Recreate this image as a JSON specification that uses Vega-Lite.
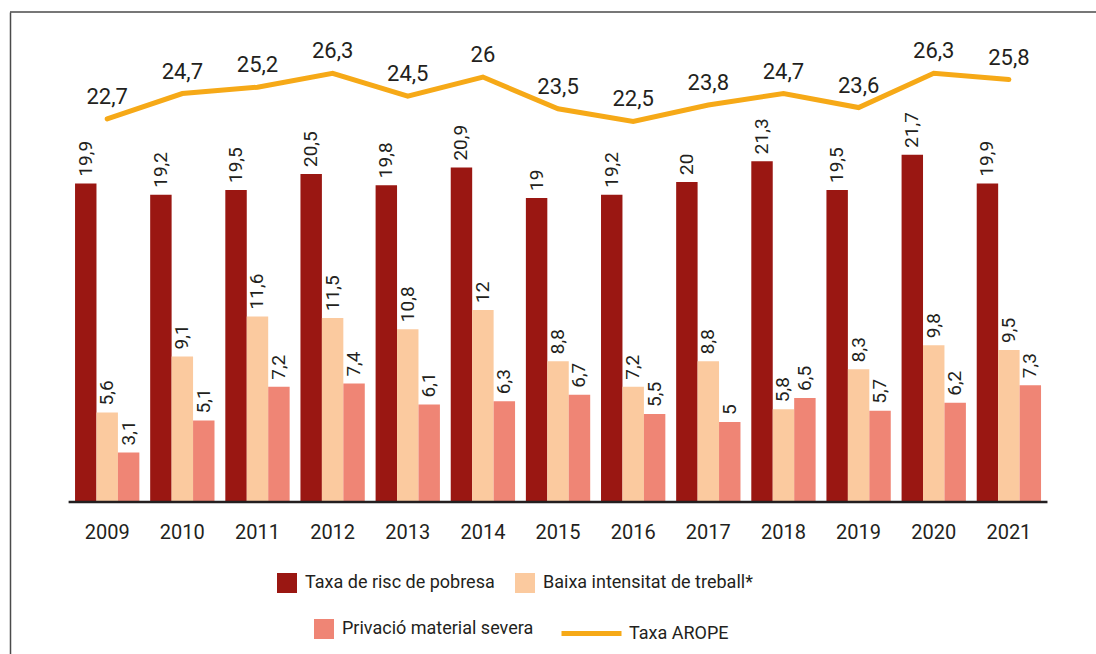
{
  "$schema": "https://vega.github.io/schema/vega-lite/v6.json",
  "width": 1086,
  "height": 642,
  "autosize": {"type": "none"},
  "padding": {"left": 10, "top": 12, "right": 0, "bottom": 0},
  "background": "white",
  "datasets": {
    "d": [
      {"year": "2009", "serie": "Taxa de risc de pobresa", "value": 19.9},
      {"year": "2009", "serie": "Baixa intensitat de treball*", "value": 5.6},
      {"year": "2009", "serie": "Privació material severa", "value": 3.1},
      {"year": "2009", "serie": "Taxa AROPE", "value": 22.7},
      {"year": "2010", "serie": "Taxa de risc de pobresa", "value": 19.2},
      {"year": "2010", "serie": "Baixa intensitat de treball*", "value": 9.1},
      {"year": "2010", "serie": "Privació material severa", "value": 5.1},
      {"year": "2010", "serie": "Taxa AROPE", "value": 24.7},
      {"year": "2011", "serie": "Taxa de risc de pobresa", "value": 19.5},
      {"year": "2011", "serie": "Baixa intensitat de treball*", "value": 11.6},
      {"year": "2011", "serie": "Privació material severa", "value": 7.2},
      {"year": "2011", "serie": "Taxa AROPE", "value": 25.2},
      {"year": "2012", "serie": "Taxa de risc de pobresa", "value": 20.5},
      {"year": "2012", "serie": "Baixa intensitat de treball*", "value": 11.5},
      {"year": "2012", "serie": "Privació material severa", "value": 7.4},
      {"year": "2012", "serie": "Taxa AROPE", "value": 26.3},
      {"year": "2013", "serie": "Taxa de risc de pobresa", "value": 19.8},
      {"year": "2013", "serie": "Baixa intensitat de treball*", "value": 10.8},
      {"year": "2013", "serie": "Privació material severa", "value": 6.1},
      {"year": "2013", "serie": "Taxa AROPE", "value": 24.5},
      {"year": "2014", "serie": "Taxa de risc de pobresa", "value": 20.9},
      {"year": "2014", "serie": "Baixa intensitat de treball*", "value": 12},
      {"year": "2014", "serie": "Privació material severa", "value": 6.3},
      {"year": "2014", "serie": "Taxa AROPE", "value": 26},
      {"year": "2015", "serie": "Taxa de risc de pobresa", "value": 19},
      {"year": "2015", "serie": "Baixa intensitat de treball*", "value": 8.8},
      {"year": "2015", "serie": "Privació material severa", "value": 6.7},
      {"year": "2015", "serie": "Taxa AROPE", "value": 23.5},
      {"year": "2016", "serie": "Taxa de risc de pobresa", "value": 19.2},
      {"year": "2016", "serie": "Baixa intensitat de treball*", "value": 7.2},
      {"year": "2016", "serie": "Privació material severa", "value": 5.5},
      {"year": "2016", "serie": "Taxa AROPE", "value": 22.5},
      {"year": "2017", "serie": "Taxa de risc de pobresa", "value": 20},
      {"year": "2017", "serie": "Baixa intensitat de treball*", "value": 8.8},
      {"year": "2017", "serie": "Privació material severa", "value": 5},
      {"year": "2017", "serie": "Taxa AROPE", "value": 23.8},
      {"year": "2018", "serie": "Taxa de risc de pobresa", "value": 21.3},
      {"year": "2018", "serie": "Baixa intensitat de treball*", "value": 5.8},
      {"year": "2018", "serie": "Privació material severa", "value": 6.5},
      {"year": "2018", "serie": "Taxa AROPE", "value": 24.7},
      {"year": "2019", "serie": "Taxa de risc de pobresa", "value": 19.5},
      {"year": "2019", "serie": "Baixa intensitat de treball*", "value": 8.3},
      {"year": "2019", "serie": "Privació material severa", "value": 5.7},
      {"year": "2019", "serie": "Taxa AROPE", "value": 23.6},
      {"year": "2020", "serie": "Taxa de risc de pobresa", "value": 21.7},
      {"year": "2020", "serie": "Baixa intensitat de treball*", "value": 9.8},
      {"year": "2020", "serie": "Privació material severa", "value": 6.2},
      {"year": "2020", "serie": "Taxa AROPE", "value": 26.3},
      {"year": "2021", "serie": "Taxa de risc de pobresa", "value": 19.9},
      {"year": "2021", "serie": "Baixa intensitat de treball*", "value": 9.5},
      {"year": "2021", "serie": "Privació material severa", "value": 7.3},
      {"year": "2021", "serie": "Taxa AROPE", "value": 25.8}
    ]
  },
  "data": {"name": "d"},
  "config": {
    "font": "Roboto",
    "view": {"stroke": null},
    "locale": {"number": {"decimal": ",", "thousands": ".", "grouping": [3], "currency": ["", " €"]}},
    "axisX": {"domain": false, "ticks": false, "tickSize": 0, "labelPadding": 20, "labelFontSize": 20, "labelColor": "#231f20", "labelAngle": 0, "offset": -152, "grid": false},
    "axisY": {"domain": true, "domainColor": "#4a4a4a", "domainWidth": 1.5, "labels": false, "ticks": false, "grid": false},
    "legend": {"orient": "none", "title": null, "padding": 0, "labelFontSize": 18, "labelColor": "#231f20", "labelLimit": 0, "labelOffset": 8, "columnPadding": 20, "direction": "horizontal", "symbolStrokeWidth": 0, "symbolOpacity": 1}
  },
  "resolve": {"scale": {"y": "independent"}, "axis": {"y": "independent"}},
  "layer": [
    {
      "layer": [
        {
          "transform": [{"filter": {"field": "serie", "oneOf": ["Taxa de risc de pobresa", "Baixa intensitat de treball*"]}}],
          "mark": {"type": "bar"},
          "encoding": {
            "x": {"field": "year", "type": "nominal", "title": null, "scale": {"paddingInner": 0.144, "paddingOuter": 0.7985, "align": 0.542}},
            "xOffset": {"field": "serie", "type": "nominal", "scale": {"domain": ["Taxa de risc de pobresa", "Baixa intensitat de treball*", "Privació material severa"], "paddingInner": 0, "paddingOuter": 0}},
            "y": {"field": "value", "type": "quantitative", "title": null, "scale": {"domain": [-9.5, 30.625], "nice": false, "zero": false}},
            "color": {"field": "serie", "type": "nominal", "scale": {"domain": ["Taxa de risc de pobresa", "Baixa intensitat de treball*"], "range": ["#9a1712", "#fbca9f"]}, "legend": {"legendX": 267, "legendY": 561, "symbolType": "square", "symbolSize": 400}}
          }
        },
        {
          "transform": [{"filter": {"field": "serie", "equal": "Privació material severa"}}],
          "mark": {"type": "bar"},
          "encoding": {
            "x": {"field": "year", "type": "nominal", "title": null},
            "xOffset": {"field": "serie", "type": "nominal", "scale": {"domain": ["Taxa de risc de pobresa", "Baixa intensitat de treball*", "Privació material severa"], "paddingInner": 0, "paddingOuter": 0}},
            "y": {"field": "value", "type": "quantitative", "title": null},
            "fill": {"field": "serie", "type": "nominal", "scale": {"domain": ["Privació material severa"], "range": ["#ef8575"]}, "legend": {"legendX": 304, "legendY": 607, "symbolType": "square", "symbolSize": 400}}
          }
        },
        {
          "transform": [{"filter": {"field": "serie", "oneOf": ["Taxa de risc de pobresa", "Baixa intensitat de treball*", "Privació material severa"]}}],
          "mark": {"type": "text", "angle": -90, "align": "left", "baseline": "middle", "dx": 7, "fontSize": 19, "color": "#231f20"},
          "encoding": {
            "x": {"field": "year", "type": "nominal", "title": null},
            "xOffset": {"field": "serie", "type": "nominal", "scale": {"domain": ["Taxa de risc de pobresa", "Baixa intensitat de treball*", "Privació material severa"], "paddingInner": 0, "paddingOuter": 0}},
            "y": {"field": "value", "type": "quantitative", "title": null},
            "text": {"field": "value", "type": "quantitative", "format": "~g"}
          }
        },
        {
          "data": {"values": [{}]},
          "mark": {"type": "rule", "color": "#4a4a4a", "strokeWidth": 1.5},
          "encoding": {"y": {"datum": 30.625}}
        },
        {
          "data": {"values": [{"from": "2009", "to": "2021"}]},
          "mark": {"type": "rule", "color": "#231f20", "strokeWidth": 2.5},
          "encoding": {
            "x": {"field": "from", "type": "nominal", "title": null, "bandPosition": -0.1},
            "x2": {"field": "to", "bandPosition": 1.1},
            "y": {"datum": 0}
          }
        }
      ]
    },
    {
      "layer": [
        {
          "transform": [{"filter": {"field": "serie", "equal": "Taxa AROPE"}}],
          "mark": {"type": "line", "strokeWidth": 5, "strokeCap": "round"},
          "encoding": {
            "x": {"field": "year", "type": "nominal", "title": null},
            "y": {"field": "value", "type": "quantitative", "axis": null, "scale": {"domain": [-19.46, 31.127], "nice": false, "zero": false}},
            "stroke": {"field": "serie", "type": "nominal", "scale": {"domain": ["Taxa AROPE"], "range": ["#f6a917"]}, "legend": {"legendX": 549, "legendY": 589, "labelOffset": 5, "symbolType": "stroke", "symbolSize": 3600, "symbolStrokeWidth": 5}}
          }
        },
        {
          "transform": [{"filter": {"field": "serie", "equal": "Taxa AROPE"}}],
          "mark": {"type": "text", "align": "center", "baseline": "alphabetic", "dy": -15, "fontSize": 22, "color": "#231f20"},
          "encoding": {
            "x": {"field": "year", "type": "nominal", "title": null},
            "y": {"field": "value", "type": "quantitative", "axis": null},
            "text": {"field": "value", "type": "quantitative", "format": "~g"}
          }
        }
      ]
    }
  ]
}
